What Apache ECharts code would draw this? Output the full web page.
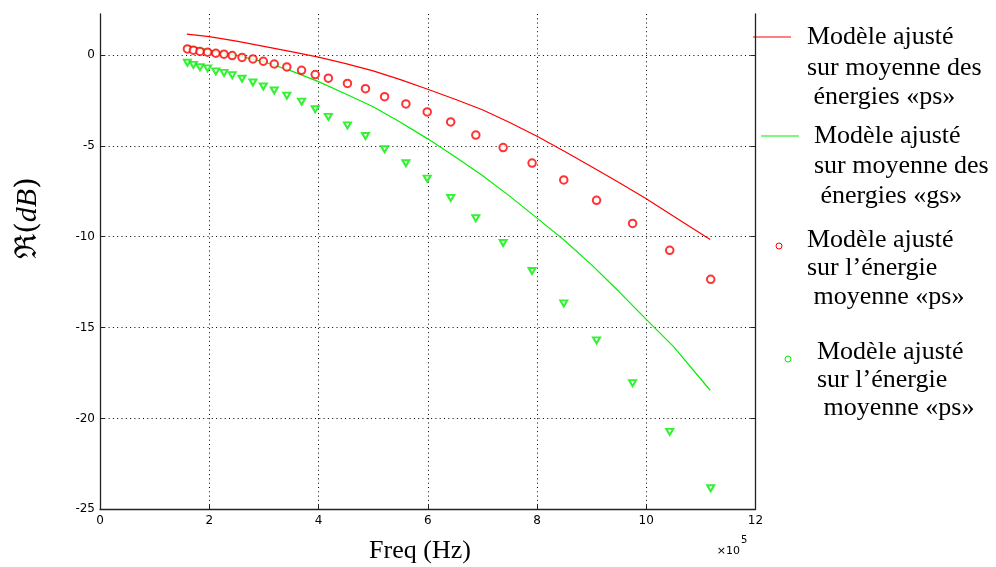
<!DOCTYPE html>
<html><head><meta charset="utf-8">
<script src="https://cdn.jsdelivr.net/npm/echarts@6/dist/echarts.min.js"></script>
<style>html,body{margin:0;padding:0;background:#fff}#c{width:996px;height:567px}</style>
</head><body><div id="c"></div>
<script>
// Tick values (x in units of 1e5 Hz)
const xTicks = [0, 2, 4, 6, 8, 10, 12];
const yTicks = [-25, -20, -15, -10, -5, 0];

// Marker frequencies (x 1e5 Hz)
const markerFreq = [1.60, 1.71, 1.83, 1.97, 2.12, 2.27, 2.42, 2.60, 2.80, 2.99, 3.19, 3.42, 3.69, 3.94, 4.18,
  4.53, 4.86, 5.21, 5.60, 5.99, 6.42, 6.88, 7.38, 7.91, 8.49, 9.09, 9.75, 10.43, 11.18];
// Red circles: model fitted on mean energy «ps»
const circlePs = [0.33, 0.26, 0.19, 0.15, 0.09, 0.04, -0.04, -0.14, -0.22, -0.35, -0.50, -0.66, -0.85, -1.08, -1.28,
  -1.57, -1.86, -2.30, -2.70, -3.14, -3.69, -4.41, -5.10, -5.95, -6.88, -8.00, -9.27, -10.75, -12.35];
// Green triangles
const triangleGs = [-0.43, -0.55, -0.67, -0.74, -0.91, -0.99, -1.11, -1.31, -1.52, -1.74, -1.96, -2.24, -2.57, -2.99, -3.41,
  -3.88, -4.46, -5.19, -5.96, -6.81, -7.87, -8.99, -10.35, -11.89, -13.67, -15.71, -18.06, -20.74, -23.84];

// Fitted model curves
const lineFreq = [1.59, 2.0, 2.5, 3.0, 3.5, 4.0, 4.5, 5.0, 5.5, 6.0, 6.5, 7.0, 7.5, 8.0, 8.5, 9.0, 9.5, 10.0, 10.5, 11.17];
const lineRedPs = [1.14, 1.01, 0.76, 0.47, 0.18, -0.12, -0.48, -0.88, -1.36, -1.89, -2.44, -3.02, -3.72, -4.48, -5.30, -6.15, -7.02, -7.92, -8.88, -10.15];
const lineGreenGs = [0.51, 0.27, -0.03, -0.38, -0.88, -1.47, -2.15, -2.85, -3.70, -4.62, -5.60, -6.64, -7.77, -8.98, -10.20, -11.55, -13.02, -14.55, -16.05, -18.45];

const legendLines = [
  ["Modèle ajusté", "sur moyenne des", " énergies «ps»"],
  ["Modèle ajusté", "sur moyenne des", " énergies «gs»"],
  ["Modèle ajusté", "sur l’énergie", " moyenne «ps»"],
  ["Modèle ajusté", "sur l’énergie", " moyenne «ps»"]
];
const xName = "Freq (Hz)";

const RED = '#ff0000', GREEN = '#00ee00';
const pairs = (xs, ys) => xs.map((x, i) => [x, ys[i]]);

const chart = echarts.init(document.getElementById('c'), null, {renderer: 'canvas'});
const tickFont = {fontFamily: '"DejaVu Sans"', fontSize: 12, color: '#000'};
const dotted = {color: '#000', width: 1, type: [1, 3.3]};
const axisLineStyle = {color: '#222', width: 1.3};

const serif = '"Liberation Serif", "Times New Roman", serif';
const legendGraphics = [];
function txt(t, x, y) {
  legendGraphics.push({type: 'text', x: x, y: y, style: {text: t, font: '26px ' + serif, fill: '#000', verticalAlign: 'middle', align: 'left'}});
}
// Entry 1
legendGraphics.push({type: 'line', shape: {x1: 753, y1: 37, x2: 791, y2: 37}, style: {stroke: RED, lineWidth: 1}});
txt(legendLines[0][0], 807, 37); txt(legendLines[0][1], 807, 68); txt(legendLines[0][2], 807, 97);
// Entry 2
legendGraphics.push({type: 'line', shape: {x1: 761, y1: 136, x2: 799, y2: 136}, style: {stroke: GREEN, lineWidth: 1}});
txt(legendLines[1][0], 814, 136); txt(legendLines[1][1], 814, 166); txt(legendLines[1][2], 814, 196);
// Entry 3
legendGraphics.push({type: 'circle', shape: {cx: 779, cy: 246, r: 3}, style: {stroke: RED, fill: null, lineWidth: 1}});
txt(legendLines[2][0], 807, 240); txt(legendLines[2][1], 807, 268); txt(legendLines[2][2], 807, 297);
// Entry 4
legendGraphics.push({type: 'circle', shape: {cx: 788, cy: 359, r: 3}, style: {stroke: GREEN, fill: null, lineWidth: 1}});
txt(legendLines[3][0], 817, 352); txt(legendLines[3][1], 817, 380); txt(legendLines[3][2], 817, 408);

// Axis titles
legendGraphics.push({type: 'text', x: 420, y: 551, style: {text: xName, font: '26px ' + serif, fill: '#000', align: 'center', verticalAlign: 'middle'}});
legendGraphics.push({type: 'text', x: 28, y: 218, rotation: Math.PI / 2,
  style: {text: '{n|ℜ(}{i|dB}{n|)}', align: 'center', verticalAlign: 'middle',
    rich: {n: {font: '30px "DejaVu Serif", serif', fill: '#000'}, i: {font: 'italic 30px ' + serif, fill: '#000'}}}});
legendGraphics.push({type: 'text', x: 740, y: 551, style: {text: '×10', font: '11px "DejaVu Sans"', fill: '#000', align: 'right', verticalAlign: 'middle'}});
legendGraphics.push({type: 'text', x: 741, y: 540, style: {text: '5', font: '10px "DejaVu Sans"', fill: '#000', align: 'left', verticalAlign: 'middle'}});

chart.setOption({
  animation: false,
  backgroundColor: '#fff',
  grid: {left: 100, right: 240.5, top: 14, bottom: 57.7, containLabel: false},
  xAxis: {
    type: 'value', min: xTicks[0], max: xTicks[xTicks.length - 1], interval: 2,
    axisLine: {show: true, onZero: false, lineStyle: axisLineStyle},
    axisTick: {show: true, inside: true, length: 5, lineStyle: {color: '#222', width: 1}},
    axisLabel: Object.assign({margin: 6, customValues: xTicks}, tickFont),
    splitLine: {show: true, lineStyle: dotted, showMinLine: false, showMaxLine: false}
  },
  yAxis: [{
    type: 'value', min: -25, max: 2.25, interval: 5,
    axisLine: {show: true, onZero: false, lineStyle: axisLineStyle},
    axisTick: {show: true, inside: true, length: 5, customValues: yTicks, lineStyle: {color: '#222', width: 1}},
    axisLabel: Object.assign({margin: 5, customValues: yTicks}, tickFont),
    splitLine: {show: true, lineStyle: dotted, showMinLine: false}
  }, {
    type: 'value', position: 'right', min: -25, max: 2.25, interval: 5,
    axisLine: {show: true, onZero: false, lineStyle: axisLineStyle},
    axisTick: {show: true, inside: true, length: 5, customValues: yTicks, lineStyle: {color: '#222', width: 1}},
    axisLabel: {show: false},
    splitLine: {show: false}
  }],
  series: [
    {type: 'line', data: pairs(lineFreq, lineRedPs), showSymbol: false, lineStyle: {color: RED, width: 1.2}, z: 3},
    {type: 'line', data: pairs(lineFreq, lineGreenGs), showSymbol: false, lineStyle: {color: GREEN, width: 1.2}, z: 3},
    {type: 'scatter', data: pairs(markerFreq, circlePs), symbol: 'emptyCircle', symbolSize: 7.5,
      itemStyle: {color: RED, borderColor: RED, borderWidth: 1}, z: 4},
    {type: 'scatter', data: pairs(markerFreq, triangleGs), symbol: 'emptyTriangle', symbolRotate: 180, symbolSize: [7, 6],
      itemStyle: {color: GREEN, borderColor: GREEN, borderWidth: 1.2}, z: 4}
  ],
  graphic: legendGraphics
});
</script></body></html>
